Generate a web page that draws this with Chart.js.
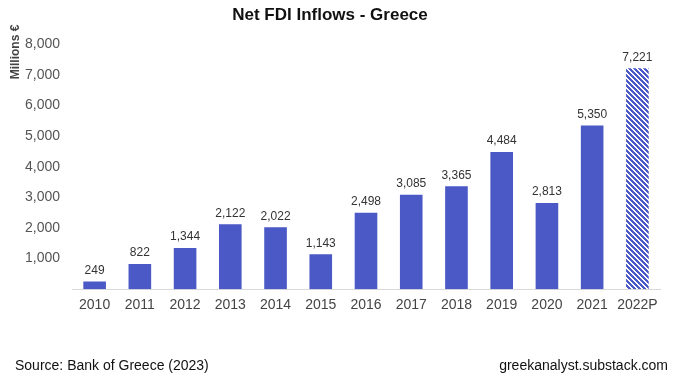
<!DOCTYPE html>
<html>
<head>
<meta charset="utf-8">
<script src="https://cdn.jsdelivr.net/npm/chart.js@4/dist/chart.umd.min.js"></script>
<style>
  html, body { margin: 0; padding: 0; background: #fff; }
  #wrap { position: relative; width: 683px; height: 379px; }
  canvas { display: block; }
  .foot { position: absolute; top: 357px; font: 14px "Liberation Sans", Arial, sans-serif; color: #111; }
</style>
</head>
<body>
<div id="wrap">
  <canvas id="c" width="683" height="379"></canvas>
  <div class="foot" style="left:15px;">Source: Bank of Greece (2023)</div>
  <div class="foot" style="right:15px;">greekanalyst.substack.com</div>
</div>
<script>
const categories = ['2010','2011','2012','2013','2014','2015','2016','2017','2018','2019','2020','2021','2022P'];
const fdiValues = [249, 822, 1344, 2122, 2022, 1143, 2498, 3085, 3365, 4484, 2813, 5350, 7221];
const projected = [false,false,false,false,false,false,false,false,false,false,false,false,true];
const yTicks = [1000, 2000, 3000, 4000, 5000, 6000, 7000, 8000];
const chartTitle = 'Net FDI Inflows - Greece';
const yAxisTitle = 'Millions €';

const BLUE = '#4a59c5';
function makeHatch() {
  const s = 5;
  const t = document.createElement('canvas');
  t.width = s; t.height = s;
  const g = t.getContext('2d');
  g.fillStyle = '#ffffff';
  g.fillRect(0, 0, s, s);
  g.fillStyle = BLUE;
  for (let x = 0; x < s; x++) {
    for (let y = 0; y < s; y++) {
      if (((x - y) % s + s) % s < 3) g.fillRect(x, y, 1, 1);
    }
  }
  return document.getElementById('c').getContext('2d').createPattern(t, 'repeat');
}
const hatch = makeHatch();
const colors = projected.map(p => p ? hatch : BLUE);

const fmt = v => v.toLocaleString('en-US');

const labelPlugin = {
  id: 'valueLabels',
  afterDatasetsDraw(chart) {
    const ctx = chart.ctx;
    const meta = chart.getDatasetMeta(0);
    ctx.save();
    ctx.font = '12px "Liberation Sans", Arial, sans-serif';
    ctx.fillStyle = '#333';
    ctx.textAlign = 'center';
    ctx.textBaseline = 'bottom';
    meta.data.forEach((bar, i) => {
      ctx.fillText(fmt(fdiValues[i]), bar.x, bar.y - 5);
    });
    ctx.restore();
  }
};

const yTitlePlugin = {
  id: 'yTitle',
  afterDraw(chart) {
    const ctx = chart.ctx;
    ctx.save();
    ctx.translate(16, 52);
    ctx.rotate(-Math.PI / 2);
    ctx.font = 'bold 12px "Liberation Sans", Arial, sans-serif';
    ctx.fillStyle = '#444';
    ctx.textAlign = 'center';
    ctx.textBaseline = 'middle';
    ctx.fillText(yAxisTitle, 0, 0);
    ctx.restore();
  }
};

new Chart(document.getElementById('c'), {
  type: 'bar',
  data: {
    labels: categories,
    datasets: [{
      data: fdiValues,
      backgroundColor: colors,
      borderWidth: 0,
      barPercentage: 0.5,
      categoryPercentage: 1.0
    }]
  },
  options: {
    responsive: false,
    animation: false,
    layout: { padding: { left: 0, right: 23, top: 0, bottom: 57 } },
    plugins: {
      legend: { display: false },
      tooltip: { enabled: false },
      title: {
        display: true,
        text: chartTitle,
        color: '#111',
        font: { family: '"Liberation Sans", Arial, sans-serif', size: 17, weight: 'bold' },
        padding: { top: 5, bottom: 19 }
      }
    },
    scales: {
      x: {
        grid: { display: false, drawTicks: false },
        border: { display: true, color: '#d9d9d9', width: 1 },
        ticks: {
          color: '#444',
          padding: 8,
          maxRotation: 0,
          autoSkip: false,
          font: { family: '"Liberation Sans", Arial, sans-serif', size: 14 }
        }
      },
      y: {
        min: 0,
        max: 8000,
        afterFit(scale) { scale.width = 72; },
        afterBuildTicks(scale) {
          scale.ticks = [0].concat(yTicks).map(v => ({ value: v }));
        },
        grid: { display: false, drawTicks: false },
        border: { display: false },
        ticks: {
          color: '#555',
          padding: 12,
          font: { family: '"Liberation Sans", Arial, sans-serif', size: 14 },
          callback: v => v === 0 ? '' : fmt(v)
        }
      }
    }
  },
  plugins: [labelPlugin, yTitlePlugin]
});
</script>
</body>
</html>
